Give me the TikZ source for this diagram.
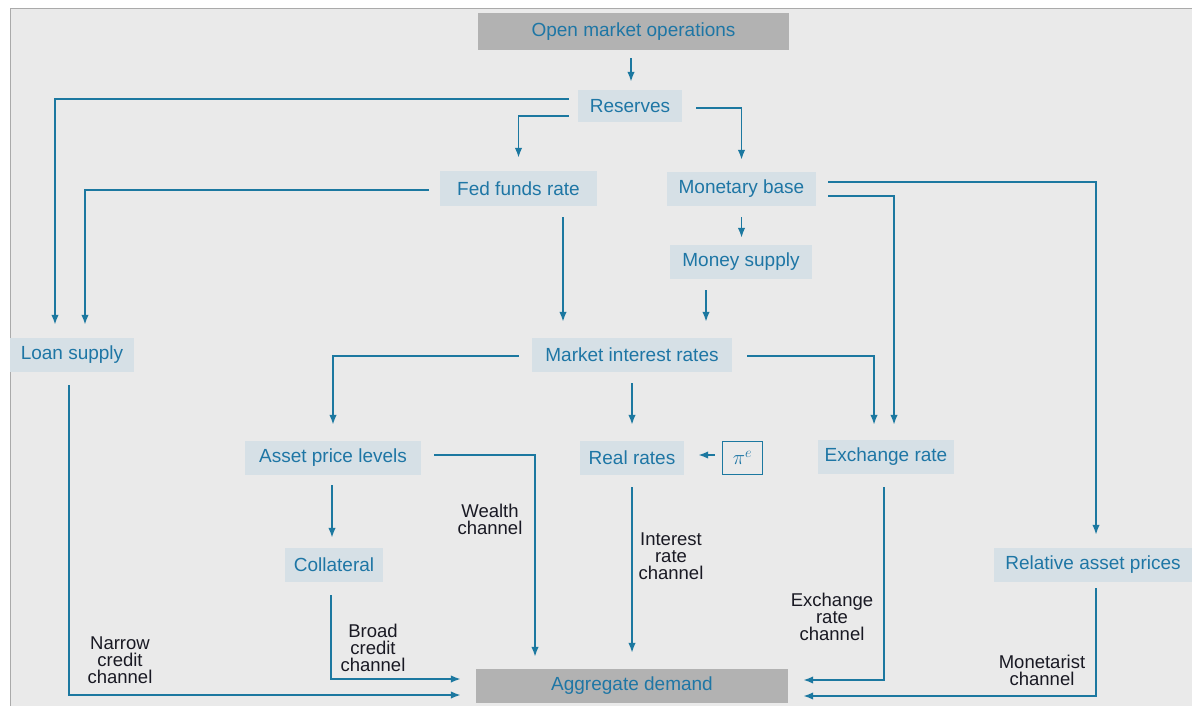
\documentclass[tikz,border=0pt]{standalone}
\usepackage{fontspec}
\setmainfont{Liberation Sans}
\usetikzlibrary{arrows.meta,calc}
\definecolor{bgcol}{RGB}{234,234,234}
\definecolor{boxfill}{RGB}{214,224,230}
\definecolor{graybox}{RGB}{178,178,178}
\definecolor{tblue}{RGB}{30,118,165}
\definecolor{lblue}{RGB}{28,120,160}
\definecolor{labcol}{RGB}{25,25,35}
\definecolor{edgecol}{RGB}{170,170,170}
\begin{document}
\begin{tikzpicture}[x=1pt,y=-1pt,
  box/.style={fill=boxfill,text=tblue,font=\fontsize{19}{20}\selectfont,minimum height=34pt,inner sep=0pt,anchor=center},
  gbox/.style={box,fill=graybox},
  lab/.style={font=\fontsize{18.5}{17}\selectfont,align=center,text=labcol,inner sep=0pt},
  arr/.style={draw=lblue,line width=1.7pt,-{Latex[length=10pt,width=7.5pt]}}]
\useasboundingbox (0,0) rectangle (1192,706);
\fill[white] (0,0) rectangle (1192,706);
\fill[bgcol] (10,9) rectangle (1192,706);
\draw[edgecol,line width=1pt] (10,706) -- (10,9) -- (1192,9);

% nodes
\node[gbox,minimum width=311pt,minimum height=37pt] (omo) at (633.5,31.5) {Open market operations};
\node[box,minimum width=104pt,minimum height=32pt] (res) at (630,106) {Reserves};
\node[box,minimum width=157pt] (ffr) at (518.5,188.5) {Fed funds rate};
\node[box,minimum width=149pt] (mb) at (741.5,189) {Monetary base};
\node[box,minimum width=142pt] (ms) at (741,262) {Money supply};
\node[box,minimum width=124pt] (loan) at (72,355) {Loan supply};
\node[box,minimum width=200pt] (mir) at (632,355) {Market interest rates};
\node[box,minimum width=176pt] (apl) at (333,458) {Asset price levels};
\node[box,minimum width=104pt] (rr) at (632,458) {Real rates};
\node[draw=lblue,line width=1.5pt,text=tblue,minimum width=40pt,minimum height=33pt,inner sep=0pt,font=\fontsize{22}{24}\selectfont] (pie) at (742.5,458) {$\pi^{e}$};
\node[box,minimum width=136pt] (er) at (886,457) {Exchange rate};
\node[box,minimum width=98pt] (coll) at (334,565) {Collateral};
\node[box,minimum width=198pt] (rap) at (1093,565) {Relative asset prices};
\node[gbox,minimum width=312pt] (ad) at (632,686) {Aggregate demand};

% labels
\node[lab] (lw) at (490,519.5) {Wealth\\channel};
\node[lab] (li) at (671,556) {Interest\\rate\\channel};
\node[lab] (lb) at (373,648) {Broad\\credit\\channel};
\node[lab] (ln) at (120,660) {Narrow\\credit\\channel};
\node[lab] (le) at (832,617) {Exchange\\rate\\channel};
\node[lab] (lm) at (1042,670) {Monetarist\\channel};

% connectors
\draw[arr] ([xshift=-2.5pt,yshift=-8pt]omo.south) -- ([xshift=1pt,yshift=8pt]res.north);
\draw[arr] ([xshift=-9pt,yshift=7pt]res.west) -| ([xshift=-17pt,yshift=13pt]loan.north);
\draw[arr] ([xshift=-9pt,yshift=-10pt]res.west) -| ([yshift=13.5pt]ffr.north);
\draw[arr] ([xshift=14pt,yshift=-2pt]res.east) -| ([yshift=12pt]mb.north);
\draw[arr] ([xshift=-11pt,yshift=-1.5pt]ffr.west) -| ([xshift=13pt,yshift=13pt]loan.north);
\draw[arr] ([xshift=44.5pt,yshift=-11.5pt]ffr.south) -- ([xshift=-69pt,yshift=16pt]mir.north);
\draw[arr] ([yshift=-11pt]mb.south) -- ([xshift=0.5pt,yshift=7pt]ms.north);
\draw[arr] ([xshift=12pt,yshift=7pt]mb.east) -| ([xshift=3pt,yshift=13pt]rap.north);
\draw[arr] ([xshift=12pt,yshift=-7pt]mb.east) -| ([xshift=8pt,yshift=15pt]er.north);
\draw[arr] ([xshift=-35pt,yshift=-11pt]ms.south) -- ([xshift=74pt,yshift=16pt]mir.north);
\draw[arr] ([xshift=-13pt,yshift=-1pt]mir.west) -| ([yshift=16pt]apl.north);
\draw[arr] ([yshift=-11pt]mir.south) -- ([yshift=16pt]rr.north);
\draw[arr] ([xshift=15pt,yshift=-1pt]mir.east) -| ([xshift=-12pt,yshift=15pt]er.north);
\draw[arr] ([xshift=-7pt,yshift=3pt]pie.west) -- ([xshift=14pt,yshift=3pt]rr.east);
\draw[arr] ([xshift=13pt,yshift=3pt]apl.east) -| ([xshift=-97pt,yshift=12pt]ad.north);
\draw[arr] ([xshift=-1pt,yshift=-10pt]apl.south) -- ([xshift=-2pt,yshift=10pt]coll.north);
\draw[arr] ([xshift=-3pt,yshift=-13pt]coll.south) |- ([xshift=-15pt,yshift=7pt]ad.west);
\draw[arr] ([xshift=-3pt,yshift=-13pt]loan.south) |- ([xshift=-15pt,yshift=-9pt]ad.west);
\draw[arr] ([yshift=-12pt]rr.south) -- ([yshift=16pt]ad.north);
\draw[arr] ([xshift=-2pt,yshift=-13pt]er.south) |- ([xshift=15pt,yshift=6pt]ad.east);
\draw[arr] ([xshift=3pt,yshift=-6pt]rap.south) |- ([xshift=15pt,yshift=-10pt]ad.east);
\end{tikzpicture}
\end{document}
